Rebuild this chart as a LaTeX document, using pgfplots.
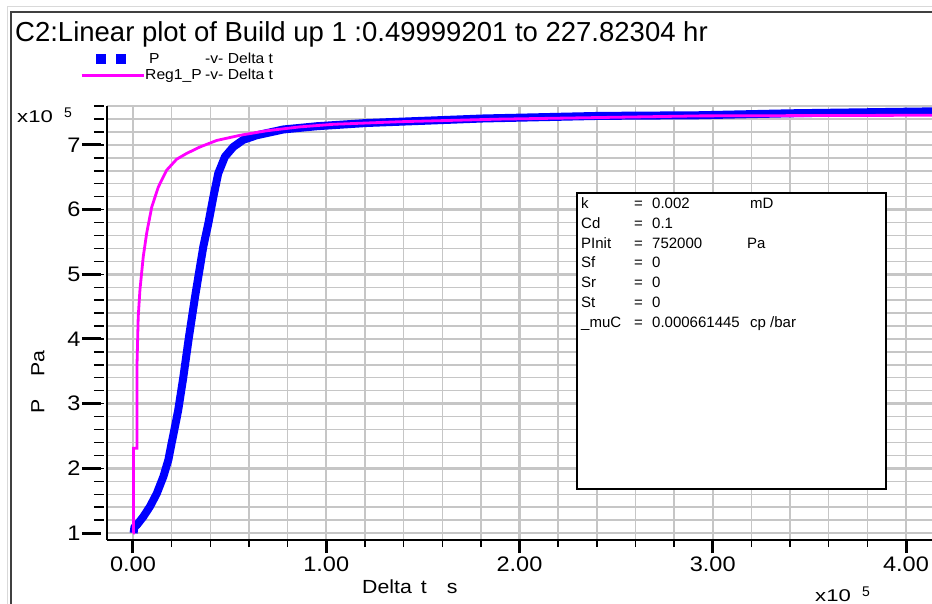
\documentclass[border=0pt]{standalone}
\usepackage{fontspec}
\setmainfont{Liberation Sans}
\newfontfamily\tickfont[FakeStretch=1.12]{Liberation Sans}
\newfontfamily\widefont[FakeStretch=1.3]{Liberation Sans}
\newfontfamily\legfont[FakeStretch=1.08]{Liberation Sans}
\usepackage{pgfplots}
\pgfplotsset{compat=1.18}

\definecolor{gridgray}{RGB}{198,198,198}
\definecolor{ptblue}{RGB}{0,0,255}
\definecolor{regpink}{RGB}{255,0,255}
\definecolor{framegray}{RGB}{64,64,64}

\begin{document}
\begin{tikzpicture}[x=1pt,y=1pt]
\path[use as bounding box] (0,0) rectangle (932,603);

% window frame
\draw[black!15, line width=1pt] (7,-5) -- (7,596) -- (940,596);
\draw[framegray, line width=1.6pt] (11,-5) -- (11,591) -- (940,591);

\node[anchor=base west, inner sep=0pt, font=\fontsize{27.5}{30}\selectfont]
  at (15,561) {C2:Linear plot of Build up 1 :0.49999201 to 227.82304 hr};

\begin{axis}[
  at={(107pt,63pt)}, anchor=south west,
  scale only axis, width=825pt, height=434pt,
  xmin=-0.1345, xmax=4.1345,
  ymin=0.8918, ymax=7.603,
  axis x line=bottom, axis y line=left,
  axis line style={-, line width=1.5pt, black},
  xtick={0,1,2,3,4},
  ytick={1,2,3,4,5,6,7},
  minor xtick={0.2,0.4,...,4.1},
  minor ytick={1.2,1.4,...,7.61},
  tick align=outside,
  major tick length=13pt, minor tick length=7pt,
  every major tick/.append style={line width=3pt, black},
  every minor tick/.append style={line width=1.4pt, black},
  every major y tick/.append style={/pgfplots/major tick length=19pt, xshift=-6pt},
  every minor y tick/.append style={/pgfplots/minor tick length=10pt, xshift=-3pt},
  grid=both,
  major grid style={gridgray, line width=2.4pt},
  minor grid style={gridgray, line width=1.4pt},
  xticklabel style={font=\tickfont\fontsize{21}{21}\selectfont,
    /pgf/number format/.cd, fixed, fixed zerofill, precision=2, assume math mode=true},
  yticklabel style={font=\tickfont\fontsize{21}{21}\selectfont, xshift=-10pt,
    /pgf/number format/.cd, fixed, precision=0, assume math mode=true},
  legend style={at={(-0.03273,1.122)}, anchor=north west, draw=none, fill=none,
    inner sep=0pt, row sep=4pt, column sep=0pt,
    font=\legfont\fontsize{14.5}{14.5}\selectfont, nodes={inner sep=0pt}},
  legend cell align=left,
]

% P -v- Delta t (x in 1e5 s, y in 1e5 Pa)
\addplot[ptblue, line width=8pt, line join=round, line cap=butt, no marks,
  legend image code/.code={
    \path[fill=ptblue, draw=none] (14pt,-5pt) rectangle (24pt,5pt);
    \path[fill=ptblue, draw=none] (34pt,-5pt) rectangle (44pt,5pt);
    \path[draw=none] (0pt,-5pt) (62pt,5pt);}]
coordinates {
  (0.003,1.00) (0.008,1.10) (0.019,1.12) (0.053,1.25) (0.088,1.41)
  (0.123,1.61) (0.157,1.87) (0.183,2.13) (0.200,2.39) (0.217,2.64)
  (0.234,2.90) (0.260,3.40) (0.288,4.00) (0.321,4.65) (0.338,4.96)
  (0.364,5.43) (0.390,5.79) (0.416,6.20) (0.441,6.56) (0.476,6.82)
  (0.519,6.97) (0.571,7.08) (0.640,7.15) (0.778,7.24) (0.951,7.29)
  (1.209,7.34) (1.554,7.38) (1.813,7.41) (2.417,7.45) (2.934,7.46)
  (3.400,7.49) (4.135,7.52)
};
\addlegendentry{\hspace*{4pt}\makebox[56pt][l]{P}-v- Delta t}

% Reg1_P -v- Delta t
\addplot[regpink, line width=2.8pt, no marks,
  legend image code/.code={
    \draw[regpink, line width=3pt] (0pt,0pt) -- (62pt,0pt);}]
coordinates {
  (0.000,1.00) (0.003,1.00) (0.003,2.31) (0.021,2.31) (0.021,3.63)
  (0.027,4.34) (0.036,4.76) (0.053,5.27) (0.071,5.64) (0.097,6.04)
  (0.131,6.35) (0.174,6.61) (0.226,6.78) (0.278,6.87) (0.347,6.97)
  (0.433,7.07) (0.554,7.15) (0.692,7.22) (0.864,7.28) (1.037,7.32)
  (1.382,7.36) (1.899,7.40) (2.934,7.45) (4.135,7.46)
};
\addlegendentry{\makebox[60pt][l]{Reg1\_P}-v- Delta t}

\end{axis}

% parameter box
\draw[black, line width=1.5pt, fill=white] (577,114) rectangle (886,410);
\begin{scope}[every node/.style={anchor=base west, inner sep=0pt, font=\fontsize{15}{15}\selectfont}]
  \node at (581,394.5) {k};     \node at (634,394.5) {=}; \node at (652,394.5) {0.002};       \node at (750,394.5) {mD};
  \node at (581,374.7) {Cd};    \node at (634,374.7) {=}; \node at (652,374.7) {0.1};
  \node at (581,354.8) {PInit}; \node at (634,354.8) {=}; \node at (652,354.8) {752000};      \node at (747,354.8) {Pa};
  \node at (581,335.0) {Sf};    \node at (634,335.0) {=}; \node at (652,335.0) {0};
  \node at (581,315.2) {Sr};    \node at (634,315.2) {=}; \node at (652,315.2) {0};
  \node at (581,295.3) {St};    \node at (634,295.3) {=}; \node at (652,295.3) {0};
  \node at (581,275.5) {\_muC}; \node at (634,275.5) {=}; \node at (652,275.5) {0.000661445}; \node at (750,275.5) {cp /bar};
\end{scope}

% axis labels and multipliers
\node[rotate=90, inner sep=0pt, font=\tickfont\fontsize{19}{19}\selectfont] at (38,221) {P\hspace{22pt}Pa};
\node[anchor=base west, inner sep=0pt, font=\tickfont\fontsize{19}{19}\selectfont] at (362,10) {Delta\hspace{9pt}t\hspace{20pt}s};
\node[anchor=base west, inner sep=0pt, font=\widefont\fontsize{17}{17}\selectfont] at (17,480) {x10};
\node[anchor=base west, inner sep=0pt, font=\fontsize{14}{14}\selectfont] at (64,485) {5};
\node[anchor=base west, inner sep=0pt, font=\widefont\fontsize{17}{17}\selectfont] at (815,2) {x10};
\node[anchor=base west, inner sep=0pt, font=\fontsize{14}{14}\selectfont] at (862,7) {5};
\end{tikzpicture}
\end{document}
